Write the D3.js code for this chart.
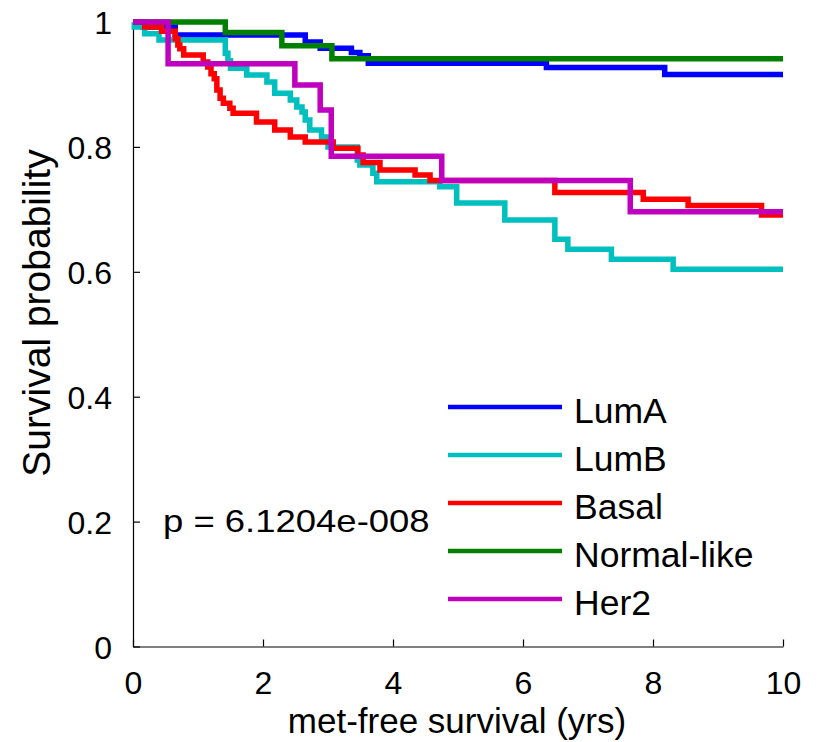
<!DOCTYPE html>
<html><head><meta charset="utf-8">
<script src="https://cdn.jsdelivr.net/npm/d3@7"></script>
<style>body{margin:0;background:#fff;} text{font-family:"Liberation Sans",Arial,sans-serif;fill:#000;}</style>
</head><body>
<svg id="c" width="819" height="742"></svg>
<script>
const groups = ["LumA","LumB","Basal","Normal-like","Her2"];
const colors = ["#0000ff","#00bfbf","#ff0000","#007f00","#bf00bf"];
const xTicks = [0,2,4,6,8,10];
const yTicks = [0,0.2,0.4,0.6,0.8,1];
const yTickLabels = ["0","0.2","0.4","0.6","0.8","1"];
const pText = "p = 6.1204e-008";

const lumA_t = [0,0.15,0.65,2.65,2.88,3.36,3.49,3.62,6.36,8.18,10];
const lumA_s = [1,0.992,0.979,0.968,0.958,0.951,0.946,0.934,0.927,0.916,0.916];
const lumB_t = [0,0.02,0.18,0.40,1.42,1.46,1.50,1.75,2.06,2.18,2.42,2.52,2.60,2.65,2.72,2.90,3.00,3.45,3.49,3.69,3.75,4.72,4.98,5.72,6.49,6.69,7.36,8.31,10];
const lumB_s = [1,0.992,0.981,0.971,0.95,0.938,0.926,0.915,0.904,0.886,0.875,0.864,0.856,0.843,0.827,0.816,0.80,0.779,0.771,0.758,0.744,0.736,0.710,0.683,0.652,0.636,0.620,0.604,0.604];
const basal_t = [0,0.18,0.44,0.65,0.69,0.72,0.78,1.08,1.15,1.20,1.25,1.29,1.34,1.39,1.49,1.54,1.90,2.18,2.42,2.65,3.08,3.46,3.54,3.80,4.34,4.57,6.49,7.85,8.54,9.67,10];
const basal_s = [1,0.992,0.985,0.973,0.963,0.957,0.947,0.936,0.928,0.917,0.909,0.891,0.878,0.870,0.862,0.854,0.840,0.827,0.816,0.808,0.798,0.787,0.775,0.763,0.755,0.746,0.727,0.716,0.706,0.691,0.691];
const normal_t = [0,1.42,2.29,3.06,10];
const normal_s = [1,0.983,0.962,0.941,0.941];
const her2_t = [0,0.54,2.49,2.88,3.05,4.75,7.65,10];
const her2_s = [1,0.933,0.899,0.859,0.785,0.746,0.696,0.696];

const seriesT = [lumA_t,lumB_t,basal_t,normal_t,her2_t];
const seriesS = [lumA_s,lumB_s,basal_s,normal_s,her2_s];

const svg = d3.select("#c");
const x = d3.scaleLinear().domain([0,10]).range([133,783]);
const y = d3.scaleLinear().domain([0,1]).range([646.5,22]);

const line = d3.line().x(d=>x(d[0])).y(d=>y(d[1])).curve(d3.curveStepAfter);

// axes
const xAxis = svg.append("g").attr("transform","translate(0,"+y(0)+")")
  .call(d3.axisBottom(x).tickValues(xTicks).tickSizeInner(-7).tickSizeOuter(0).tickFormat(d3.format("d")));
const yAxis = svg.append("g").attr("transform","translate("+x(0)+",0)")
  .call(d3.axisLeft(y).tickValues(yTicks).tickSizeInner(-7).tickSizeOuter(0).tickFormat((d,i)=>yTickLabels[i]));
[xAxis,yAxis].forEach(a=>{
  a.select(".domain").attr("stroke","#000").attr("stroke-width",1.2);
  a.selectAll(".tick line").attr("stroke","#000").attr("stroke-width",1.2);
  a.selectAll("text").style("font-size","32px").attr("fill","#000");
});
xAxis.selectAll("text").attr("dy",null).attr("y",47);
yAxis.selectAll("text").attr("x",-21).attr("dy","0.36em");

// curves
groups.forEach((g,i)=>{
  const pts = seriesT[i].map((t,j)=>[t,seriesS[i][j]]);
  svg.append("path").attr("d",line(pts)).attr("fill","none")
    .attr("stroke",colors[i]).attr("stroke-width",5.5).attr("stroke-linejoin","miter");
});

// labels
svg.append("text").attr("transform","translate(457,733)")
  .attr("text-anchor","middle").style("font-size","35px").text("met-free survival (yrs)");
svg.append("text").attr("transform","translate(50,313) rotate(-90)")
  .attr("text-anchor","middle").style("font-size","39px").text("Survival probability");
svg.append("text").attr("transform","translate(163,532) scale(1.14,1)")
  .style("font-size","32px").text(pText);

// legend
const legY = d3.scaleBand().domain(groups).range([383,623]);
groups.forEach((g,i)=>{
  const yy = legY(g)+legY.bandwidth()/2;
  svg.append("line").attr("x1",448).attr("x2",562).attr("y1",yy).attr("y2",yy)
    .attr("stroke",colors[i]).attr("stroke-width",4.5);
  svg.append("text").attr("transform","translate(574,"+(yy+16)+")")
    .style("font-size","35.5px").text(g);
});
</script>
</body></html>
